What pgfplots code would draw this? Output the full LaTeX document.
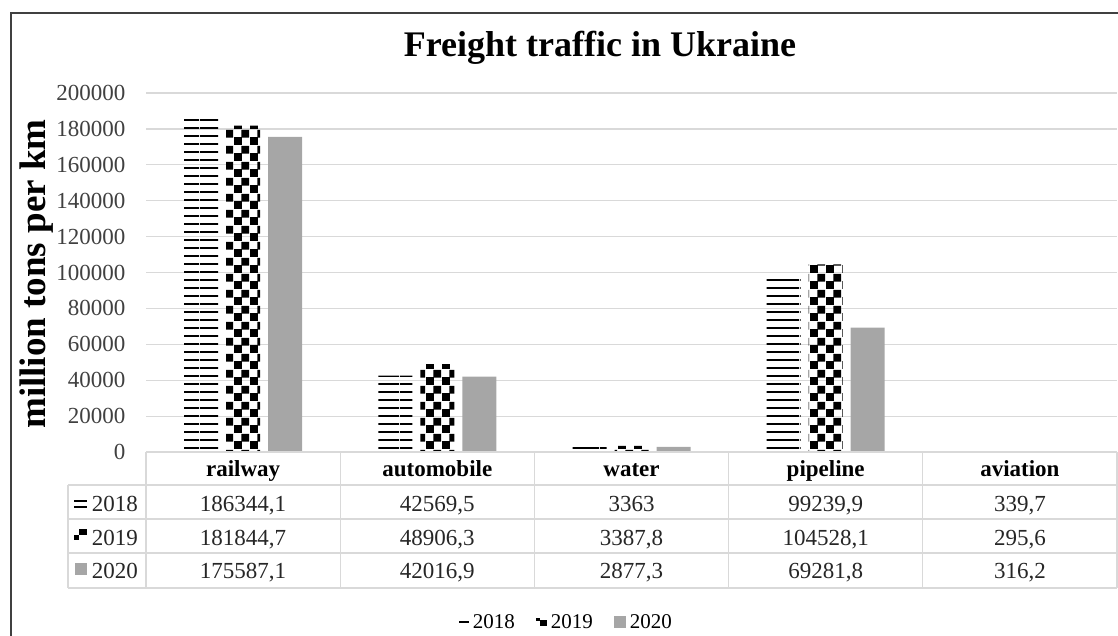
\documentclass[border=0pt]{standalone}
\usepackage{fontspec}
\setmainfont{Liberation Serif}
\usepackage{pgfplots}
\usepackage{pgfplotstable}
\pgfplotsset{compat=1.18}
\usetikzlibrary{patterns}
\definecolor{gridgray}{HTML}{D9D9D9}
\definecolor{bargray}{HTML}{A6A6A6}
\definecolor{ticktext}{HTML}{404040}
\pgfdeclarepatternformonly{bighlines}{\pgfpoint{0pt}{0pt}}{\pgfpoint{40pt}{7.8pt}}{\pgfpoint{40pt}{7.8pt}}{\pgfpathrectangle{\pgfpoint{0pt}{0pt}}{\pgfpoint{40pt}{2pt}}\pgfusepath{fill}}
\pgfdeclarepatternformonly{bigchecker}{\pgfpointorigin}{\pgfpoint{15.6pt}{15.6pt}}{\pgfpoint{15.6pt}{15.6pt}}{\pgfpathrectangle{\pgfpointorigin}{\pgfpoint{8.1pt}{8.1pt}}\pgfpathrectangle{\pgfpoint{7.5pt}{7.5pt}}{\pgfpoint{8.1pt}{8.1pt}}\pgfusepath{fill}}
\newcommand\titlefont{\fontsize{36}{41}\selectfont}
\newcommand\tickfont{\fontsize{23}{27}\selectfont}
\newcommand\tabfont{\fontsize{23}{27}\selectfont}
\newcommand\ylabfont{\fontsize{37}{42}\selectfont}
\newcommand\legfont{\fontsize{21}{25}\selectfont}
\pgfplotstableread{
x y2018 y2019 y2020
0 186344.1 181844.7 175587.1
1 42569.5 48906.3 42016.9
2 3363 3387.8 2877.3
3 99239.9 104528.1 69281.8
4 339.7 295.6 316.2
}\freight
\begin{document}
\begin{tikzpicture}[x=1pt,y=1pt]
\useasboundingbox (0,0) rectangle (1118,-636);
\draw[line width=1.5pt, black!75] (11,-640) -- (11,-13) -- (1122,-13);
\node[font=\titlefont\bfseries, anchor=base] at (600,-57) {Freight traffic in Ukraine};
\node[rotate=90, font=\ylabfont\bfseries] at (37,-274) {million tons per km};
\begin{axis}[
  at={(146pt,-452pt)}, anchor=south west,
  scale only axis, width=971pt, height=359pt,
  xmin=-0.5, xmax=4.5, ymin=0, ymax=200000,
  ybar=8pt, bar width=34pt,
  ytick={0,20000,40000,60000,80000,100000,120000,140000,160000,180000,200000},
  yticklabels={0,20000,40000,60000,80000,100000,120000,140000,160000,180000,200000},
  xtick=\empty,
  axis line style={draw=none}, major tick length=0pt,
  ymajorgrids, grid style={gridgray, line width=1.2pt},
  scaled y ticks=false,
  yticklabel style={font=\tickfont, text=ticktext, xshift=-17pt},
  legend style={at={(axis description cs:0.433,-0.4735)}, anchor=center, draw=none, fill=none, font=\legfont, /tikz/every even column/.append style={column sep=19pt}, /tikz/every odd column/.append style={column sep=2pt}},
  legend columns=-1,
]
\addplot[draw=none, pattern=bighlines, pattern color=black,
  legend image code/.code={\fill[black] (0pt,-1pt) rectangle (10pt,1pt);}]
  table[x=x, y=y2018]{\freight};
\addlegendentry{2018}
\addplot[draw=none, pattern=bigchecker, pattern color=black,
  legend image code/.code={\fill[black] (0pt,1pt) rectangle (4pt,4pt); \fill[black] (4pt,-4pt) rectangle (11pt,2pt);}]
  table[x=x, y=y2019]{\freight};
\addlegendentry{2019}
\addplot[draw=none, fill=bargray,
  legend image code/.code={\fill[bargray] (0pt,-6pt) rectangle (12pt,6pt);}]
  table[x=x, y=y2020]{\freight};
\addlegendentry{2020}
\end{axis}
% data table
\begin{scope}[draw=gridgray, line width=1.2pt]
\draw (146,-452) -- (1117,-452);
\draw (68,-485) -- (1117,-485);
\draw (68,-519) -- (1117,-519);
\draw (68,-553) -- (1117,-553);
\draw (68,-588) -- (1117,-588);
\draw (68,-485) -- (68,-588);
\foreach \xx in {146,340.2,534.4,728.6,922.8,1117} \draw (\xx,-452) -- (\xx,-588);
\end{scope}
\begin{scope}[every node/.style={anchor=base, inner sep=0pt, font=\tabfont, text=black!85}]
\foreach \xx/\nm in {243.1/railway,437.3/automobile,631.5/water,825.7/pipeline,1019.9/aviation}
  \node[font=\tabfont\bfseries, text=black] at (\xx,-476) {\nm};
\foreach \xx/\v in {243.1/{186344,1},437.3/{42569,5},631.5/{3363},825.7/{99239,9},1019.9/{339,7}}
  \node at (\xx,-511) {\v};
\foreach \xx/\v in {243.1/{181844,7},437.3/{48906,3},631.5/{3387,8},825.7/{104528,1},1019.9/{295,6}}
  \node at (\xx,-545) {\v};
\foreach \xx/\v in {243.1/{175587,1},437.3/{42016,9},631.5/{2877,3},825.7/{69281,8},1019.9/{316,2}}
  \node at (\xx,-578) {\v};
\node[anchor=base east] at (138,-511) {2018};
\node[anchor=base east] at (138,-545) {2019};
\node[anchor=base east] at (138,-578) {2020};
\end{scope}
\fill[black] (74,-500) rectangle (87,-502);
\fill[black] (74,-506) rectangle (87,-508);
\fill[black] (79,-529) rectangle (87,-535);
\fill[black] (74,-535) rectangle (78.5,-540);
\fill[bargray] (75,-563) rectangle (87,-575);
\end{tikzpicture}
\end{document}
